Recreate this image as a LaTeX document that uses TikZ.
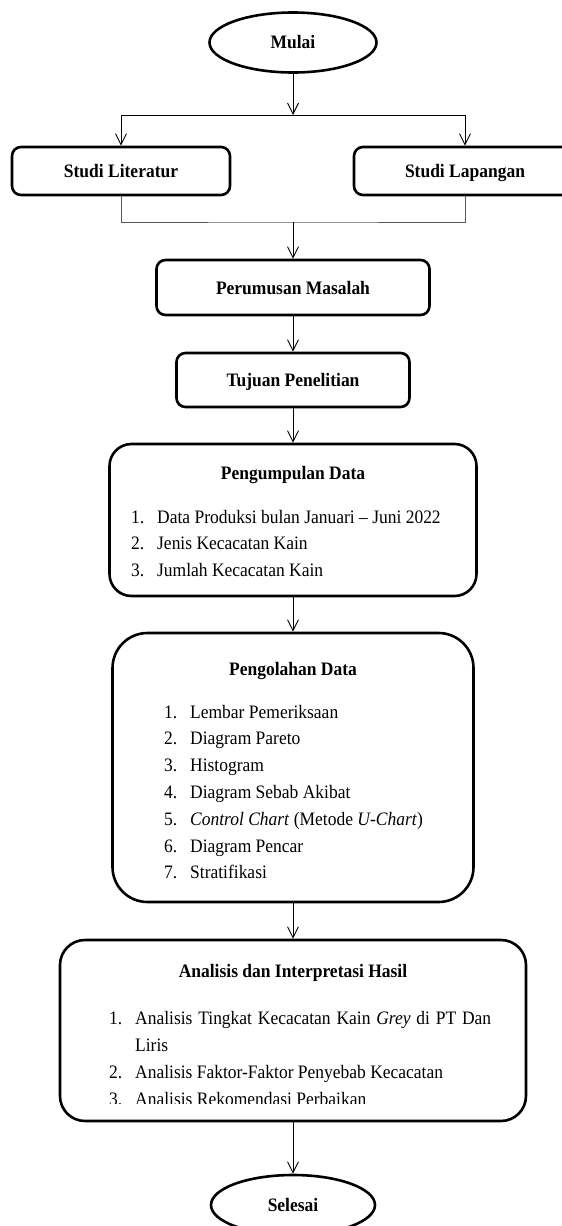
\documentclass[tikz,border=0pt]{standalone}
\usepackage{fontspec}
\setmainfont[FakeStretch=0.92]{Liberation Serif}
\usetikzlibrary{arrows.meta,shapes.geometric}
\newcommand{\flowfont}{\fontsize{19}{26.8}\selectfont}
\newcommand{\num}[1]{\makebox[26pt][l]{#1}}

\begin{document}
\begin{tikzpicture}[x=1pt,y=-1pt]
    \tikzset{arr/.style={-{Straight Barb[length=11pt,width=11pt]},line width=0.9pt},
      joinline/.style={line width=0.9pt,gray!70!black},
      terminal/.style={draw,ellipse,line width=2.6pt,inner sep=0pt,minimum height=60pt,font=\flowfont\bfseries},
      proc/.style={draw,rounded corners=#1,line width=2.6pt,inner sep=0pt,text height=13pt,text depth=0pt,font=\flowfont\bfseries},
      proc/.default=9pt,
      head/.style={font=\flowfont\bfseries,anchor=base,inner sep=0pt},
      items/.style={font=\flowfont,align=left,anchor=north west,inner sep=0pt}};
    \clip (0,0) rectangle (562,1226);
    \node[terminal,minimum width=167pt] (mulai) at (293,42.5) {Mulai};
    \coordinate (split) at (293,115);
    \node[proc,minimum width=218pt,minimum height=48pt] (lit) at (121,171) {Studi Literatur};
    \node[proc,minimum width=222pt,minimum height=48pt] (lap) at (465,171) {Studi Lapangan};
    \coordinate (merge) at (293,222);
    \node[proc,minimum width=273pt,minimum height=55pt] (rumus) at (293,287.5) {Perumusan Masalah};
    \node[proc,minimum width=233pt,minimum height=54pt] (tujuan) at (293,380) {Tujuan Penelitian};
    % pengumpulan data
    \node[proc=22pt,minimum width=367pt,minimum height=152pt] (kumpul) at (293,520) {};
    \node[head] (kumpulT) at (293,479) {Pengumpulan Data};
    \node[items] (kumpulL) at (131,504.2) {\strut\num{1.}Data Produksi bulan Januari -- Juni 2022\\
      \num{2.}Jenis Kecacatan Kain\\
      \num{3.}Jumlah Kecacatan Kain};
    % pengolahan data
    \node[proc=35pt,minimum width=361pt,minimum height=269pt] (olah) at (293,767.5) {};
    \node[head] (olahT) at (293,675) {Pengolahan Data};
    \node[items] (olahL) at (164,699.2) {\strut\num{1.}Lembar Pemeriksaan\\
      \num{2.}Diagram Pareto\\
      \num{3.}Histogram\\
      \num{4.}Diagram Sebab Akibat\\
      \num{5.}\textit{Control Chart} (Metode \textit{U-Chart})\\
      \num{6.}Diagram Pencar\\
      \num{7.}Stratifikasi};
    % analisis
    \node[proc=25pt,minimum width=466pt,minimum height=181pt] (analisis) at (293,1030.5) {};
    \node[head] (analisisT) at (293,977) {Analisis dan Interpretasi Hasil};
    \begin{scope}
      \clip (61,940) rectangle (527,1103);
      \node[items,font=\fontsize{19}{27.2}\selectfont] (analisisL) at (109,1005) {\strut\num{1.}\makebox[356pt][s]{Analisis Tingkat Kecacatan Kain \textit{Grey} di PT Dan}\\
        \num{}Liris\\
        \num{2.}Analisis Faktor-Faktor Penyebab Kecacatan\\
        \num{3.}Analisis Rekomendasi Perbaikan};
    \end{scope}
    \node[terminal,minimum width=164pt] (selesai) at (293,1205) {Selesai};
    % connectors
    \draw[arr] (mulai) -- (split);
    \draw[arr] (split) -| (lit);
    \draw[arr] (split) -| (lap);
    \draw[joinline] (lit) |- (merge) -| (lap);
    \draw[arr] (merge) -- (rumus);
    \draw[arr] (rumus) -- (tujuan);
    \draw[arr] (tujuan) -- (kumpul);
    \draw[arr] (kumpul) -- (olah);
    \draw[arr] (olah) -- (analisis);
    \draw[arr] (analisis) -- (selesai);
\end{tikzpicture}
\end{document}
